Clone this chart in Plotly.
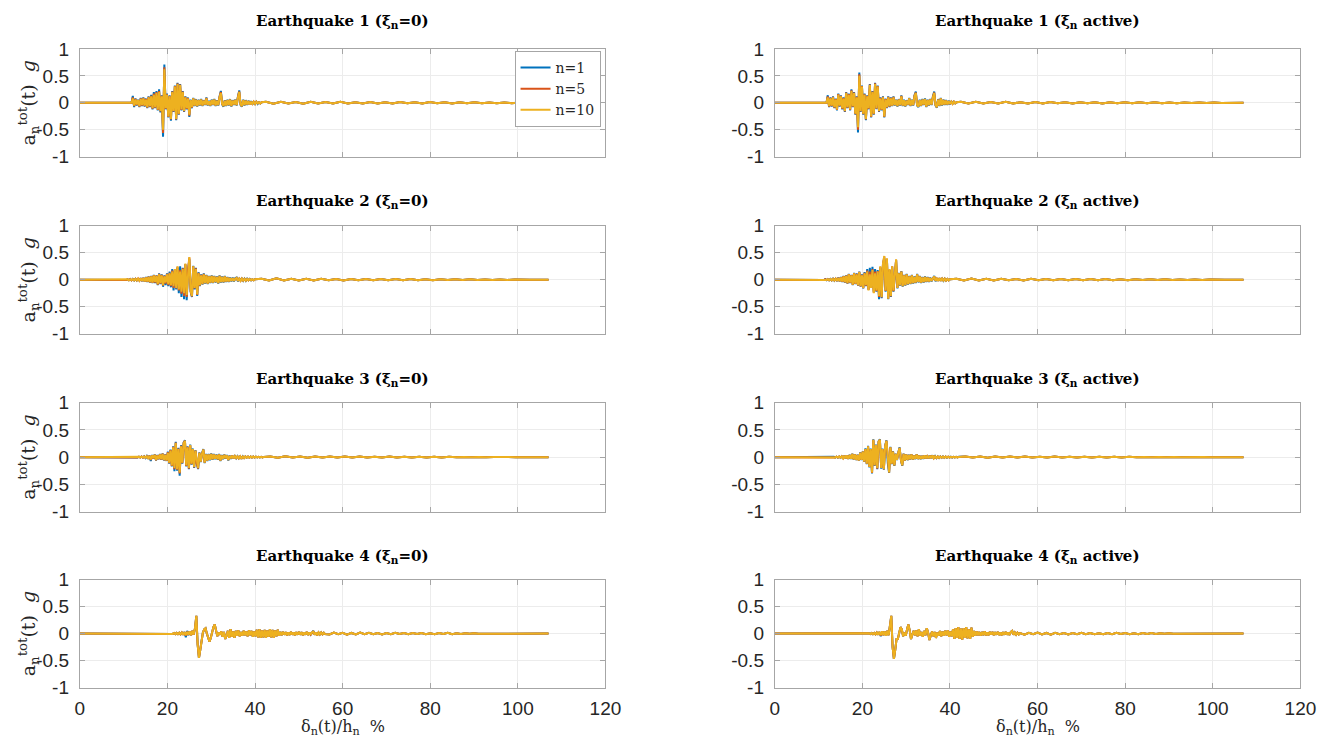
import plotly.graph_objects as go
from plotly.subplots import make_subplots

# ---------------- text ----------------
earthquakes = ["Earthquake 1", "Earthquake 2", "Earthquake 3", "Earthquake 4"]
cases = ["(ξ<sub>n</sub>=0)", "(ξ<sub>n</sub> active)"]
series_names = ["n=1", "n=5", "n=10"]
series_colors = ["#0072BD", "#D95319", "#EDB120"]
x_ticks = [0, 20, 40, 60, 80, 100, 120]
y_ticks = [-1, -0.5, 0, 0.5, 1]
y_ticktext = ["-1", "-0.5", "0", "0.5", "1"]
x_end = 107  # last drift value of every record

# sampling of the strong-motion window and of the tail for each panel
# order: EQ1 free, EQ1 active, EQ2 free, EQ2 active, EQ3 free, EQ3 active, EQ4 free, EQ4 active
win_start = [11.5, 11.5, 10.0, 10.0, 12.0, 12.0, 20.0, 20.0]
win_step = [0.3, 0.3, 0.3, 0.3, 0.3, 0.3, 0.3, 0.3]
tail_start = [42.5, 42.5, 41.5, 41.5, 43.5, 43.5, 57.0, 57.0]
tail_step = [1.7, 1.7, 1.7, 1.7, 1.7, 1.7, 1.0, 1.0]

# ---------------- Earthquake 1, xi = 0 ----------------
eq1_free_n1 = [0, 0, 0.13, -0.08, 0.08, -0.05, 0.06, -0.08, 0.09, -0.06,
               0.1, -0.07, 0.08, -0.1, 0.12, -0.08, 0.15, -0.12, 0.2, -0.1,
               0.22, -0.14, 0.25, -0.18, 0.14, -0.63, 0.71, -0.12, 0.17, -0.27,
               0.14, -0.33, 0.22, -0.17, 0.32, -0.32, 0.37, -0.22, 0.35, -0.14,
               0.22, -0.17, 0.12, -0.12, 0.1, -0.26, 0.06, -0.1, 0.09, -0.06,
               0.07, -0.07, 0.06, -0.05, 0.07, -0.06, 0.05, -0.04, 0.1, -0.05,
               0.04, -0.06, 0.06, -0.04, 0.07, -0.06, 0.05, -0.05, 0.12, 0.22,
               -0.03, -0.07, 0.05, -0.06, 0.06, -0.05, 0.07, -0.07, 0.05, -0.04,
               0.06, -0.05, 0.12, 0.23, -0.04, -0.07, 0.06, -0.05, 0.05, -0.04,
               0.04, -0.03, 0.03, -0.03, 0.02, -0.02, 0.02, -0.02, 0.01, -0.01, 0.01]
eq1_free_n5 = [0, 0, 0.1, -0.06, 0.07, -0.04, 0.05, -0.07, 0.08, -0.05,
               0.09, -0.06, 0.07, -0.09, 0.11, -0.07, 0.13, -0.11, 0.17, -0.09,
               0.2, -0.13, 0.22, -0.16, 0.13, -0.56, 0.66, -0.11, 0.16, -0.26,
               0.13, -0.31, 0.21, -0.16, 0.31, -0.31, 0.36, -0.21, 0.34, -0.13,
               0.21, -0.16, 0.11, -0.11, 0.09, -0.24, 0.05, -0.09, 0.08, -0.05,
               0.06, -0.06, 0.05, -0.04, 0.06, -0.05, 0.04, -0.03, 0.09, -0.04,
               0.03, -0.05, 0.05, -0.03, 0.06, -0.05, 0.04, -0.04, 0.11, 0.2,
               -0.02, -0.06, 0.04, -0.05, 0.05, -0.04, 0.06, -0.06, 0.04, -0.03,
               0.05, -0.04, 0.11, 0.21, -0.03, -0.06, 0.05, -0.04, 0.04, -0.03,
               0.03, -0.03, 0.02, -0.02, 0.02, -0.02, 0.02, -0.01, 0.01, -0.01, 0.01]
eq1_free_n10 = [0, 0, 0.08, -0.05, 0.06, -0.03, 0.05, -0.06, 0.07, -0.04,
                0.08, -0.05, 0.06, -0.08, 0.1, -0.06, 0.12, -0.1, 0.15, -0.08,
                0.18, -0.12, 0.2, -0.15, 0.12, -0.5, 0.62, -0.1, 0.15, -0.25,
                0.12, -0.3, 0.2, -0.15, 0.3, -0.3, 0.35, -0.2, 0.33, -0.12,
                0.2, -0.15, 0.1, -0.1, 0.08, -0.22, 0.05, -0.08, 0.08, -0.05,
                0.06, -0.06, 0.05, -0.04, 0.06, -0.05, 0.04, -0.03, 0.08, -0.04,
                0.03, -0.05, 0.05, -0.03, 0.06, -0.05, 0.04, -0.04, 0.1, 0.18,
                -0.02, -0.06, 0.04, -0.05, 0.05, -0.04, 0.06, -0.06, 0.04, -0.03,
                0.05, -0.04, 0.1, 0.2, -0.03, -0.06, 0.05, -0.04, 0.04, -0.03,
                0.03, -0.03, 0.02, -0.02, 0.02, -0.02, 0.02, -0.01, 0.01, -0.01, 0.01]
eq1_free_tail = [0.02, -0.015, 0.02, -0.01, 0.015, -0.015, 0.02, -0.01, 0.015, -0.012,
                 0.018, -0.01, 0.012, -0.012, 0.015, -0.01, 0.012, -0.01, 0.015, -0.008,
                 0.012, -0.01, 0.015, -0.008, 0.01, -0.01, 0.012, -0.008, 0.01, -0.008,
                 0.008, -0.006, 0.008, -0.006, 0.005, -0.004, 0.003]

# ---------------- Earthquake 1, xi active ----------------
eq1_act_n1 = [0, 0, 0.14, -0.08, 0.1, -0.07, 0.12, -0.1, 0.08, -0.14,
              0.17, -0.07, 0.14, -0.12, 0.1, -0.17, 0.2, -0.1, 0.17, -0.14,
              0.25, -0.08, 0.2, -0.22, 0.12, -0.55, 0.56, -0.17, 0.32, -0.22,
              0.17, -0.32, 0.14, -0.12, 0.35, -0.27, 0.22, -0.22, 0.37, -0.12,
              0.32, -0.17, 0.1, -0.14, 0.12, -0.27, 0.08, -0.1, 0.12, -0.08,
              0.1, -0.06, 0.12, -0.05, 0.06, -0.07, 0.07, -0.05, 0.14, -0.06,
              0.06, -0.07, 0.05, -0.04, 0.09, -0.06, 0.06, -0.05, 0.14, 0.21,
              -0.05, -0.08, 0.06, -0.06, 0.07, -0.04, 0.08, -0.08, 0.06, -0.05,
              0.07, -0.04, 0.12, 0.21, -0.05, -0.09, 0.07, -0.06, 0.09, -0.05,
              0.06, -0.04, 0.05, -0.04, 0.04, -0.03, 0.03, -0.02, 0.02, -0.01, 0.01]
eq1_act_n5 = [0, 0, 0.12, -0.07, 0.09, -0.06, 0.11, -0.09, 0.07, -0.13,
              0.16, -0.06, 0.13, -0.11, 0.09, -0.16, 0.19, -0.09, 0.16, -0.13,
              0.23, -0.07, 0.19, -0.21, 0.11, -0.5, 0.53, -0.16, 0.31, -0.21,
              0.16, -0.31, 0.13, -0.11, 0.34, -0.26, 0.21, -0.21, 0.36, -0.11,
              0.31, -0.16, 0.09, -0.13, 0.11, -0.26, 0.07, -0.09, 0.11, -0.07,
              0.09, -0.05, 0.11, -0.04, 0.05, -0.06, 0.06, -0.04, 0.13, -0.05,
              0.05, -0.06, 0.04, -0.03, 0.08, -0.05, 0.05, -0.04, 0.13, 0.19,
              -0.04, -0.07, 0.05, -0.05, 0.06, -0.03, 0.07, -0.07, 0.05, -0.04,
              0.06, -0.03, 0.11, 0.19, -0.04, -0.08, 0.06, -0.05, 0.08, -0.04,
              0.05, -0.03, 0.04, -0.03, 0.03, -0.02, 0.02, -0.02, 0.02, -0.01, 0.01]
eq1_act_n10 = [0, 0, 0.1, -0.06, 0.08, -0.05, 0.1, -0.08, 0.06, -0.12,
               0.15, -0.05, 0.12, -0.1, 0.08, -0.15, 0.18, -0.08, 0.15, -0.12,
               0.22, -0.06, 0.18, -0.2, 0.1, -0.45, 0.5, -0.15, 0.3, -0.2,
               0.15, -0.3, 0.12, -0.1, 0.33, -0.25, 0.2, -0.2, 0.35, -0.1,
               0.3, -0.15, 0.08, -0.12, 0.1, -0.25, 0.06, -0.08, 0.1, -0.06,
               0.08, -0.05, 0.1, -0.04, 0.05, -0.06, 0.06, -0.04, 0.12, -0.05,
               0.05, -0.06, 0.04, -0.03, 0.08, -0.05, 0.05, -0.04, 0.12, 0.18,
               -0.04, -0.07, 0.05, -0.05, 0.06, -0.03, 0.07, -0.07, 0.05, -0.04,
               0.06, -0.03, 0.1, 0.18, -0.04, -0.08, 0.06, -0.05, 0.08, -0.04,
               0.05, -0.03, 0.04, -0.03, 0.03, -0.02, 0.02, -0.02, 0.02, -0.01, 0.01]
eq1_act_tail = [0.02, -0.012, 0.018, -0.012, 0.015, -0.01, 0.02, -0.012, 0.012, -0.01,
                0.015, -0.01, 0.015, -0.008, 0.012, -0.01, 0.012, -0.008, 0.012, -0.01,
                0.01, -0.008, 0.012, -0.008, 0.01, -0.006, 0.01, -0.008, 0.008, -0.006,
                0.008, -0.005, 0.006, -0.005, 0.004, -0.003, 0.002]

# ---------------- Earthquake 2, xi = 0 ----------------
eq2_free_n1 = [0, 0.006, -0.006, 0.01, -0.01, 0.012, -0.012, 0.015, -0.012, 0.018,
               -0.015, 0.025, -0.02, 0.03, -0.025, 0.035, -0.035, 0.05, -0.04, 0.06,
               -0.05, 0.07, -0.06, 0.09, -0.06, 0.08, -0.1, 0.12, -0.08, 0.1,
               -0.13, 0.08, -0.1, 0.12, -0.12, 0.15, -0.14, 0.2, -0.2, 0.18,
               -0.18, 0.22, -0.25, 0.25, -0.32, 0.22, -0.36, 0.28, -0.38, 0.15,
               0.38, -0.22, -0.32, 0.26, -0.18, 0.22, -0.3, 0.14, -0.12, 0.1,
               -0.09, 0.12, -0.07, 0.09, -0.08, 0.07, -0.06, 0.08, -0.06, 0.07,
               -0.05, 0.06, -0.07, 0.08, -0.05, 0.06, -0.05, 0.07, -0.04, 0.05,
               -0.04, 0.04, -0.03, 0.04, -0.03, 0.03, 0.04, -0.03, 0.03, -0.02,
               0.02, -0.02, 0.02, -0.02, 0.02, -0.01, 0.015, -0.01, 0.01, -0.01, 0.01]
eq2_free_n5 = [0, 0.005, -0.005, 0.009, -0.009, 0.011, -0.011, 0.013, -0.011, 0.016,
               -0.013, 0.022, -0.017, 0.027, -0.022, 0.032, -0.032, 0.045, -0.035, 0.055,
               -0.045, 0.065, -0.055, 0.085, -0.05, 0.075, -0.09, 0.11, -0.07, 0.09,
               -0.11, 0.07, -0.07, 0.11, -0.1, 0.13, -0.12, 0.17, -0.15, 0.19,
               -0.16, 0.24, -0.2, 0.18, -0.26, 0.21, -0.3, 0.29, -0.32, 0.18,
               0.41, -0.21, -0.31, 0.25, -0.16, 0.21, -0.28, 0.13, -0.11, 0.09,
               -0.08, 0.11, -0.06, 0.08, -0.07, 0.06, -0.05, 0.07, -0.05, 0.06,
               -0.04, 0.05, -0.06, 0.07, -0.04, 0.05, -0.04, 0.06, -0.03, 0.04,
               -0.03, 0.03, -0.02, 0.03, -0.02, 0.02, 0.035, -0.02, 0.02, -0.02,
               0.02, -0.015, 0.015, -0.015, 0.015, -0.01, 0.012, -0.01, 0.01, -0.01, 0.01]
eq2_free_n10 = [0, 0.005, -0.005, 0.008, -0.008, 0.01, -0.01, 0.012, -0.01, 0.015,
                -0.012, 0.02, -0.015, 0.025, -0.02, 0.03, -0.03, 0.04, -0.03, 0.05,
                -0.04, 0.06, -0.05, 0.08, -0.04, 0.07, -0.08, 0.1, -0.06, 0.08,
                -0.1, 0.06, -0.05, 0.1, -0.08, 0.12, -0.1, 0.15, -0.12, 0.2,
                -0.15, 0.25, -0.18, 0.15, -0.22, 0.2, -0.25, 0.3, -0.28, 0.2,
                0.42, -0.2, -0.3, 0.25, -0.15, 0.2, -0.27, 0.12, -0.1, 0.08,
                -0.08, 0.1, -0.06, 0.08, -0.07, 0.06, -0.05, 0.07, -0.05, 0.06,
                -0.04, 0.05, -0.06, 0.07, -0.04, 0.05, -0.04, 0.06, -0.03, 0.04,
                -0.03, 0.03, -0.02, 0.03, -0.02, 0.02, 0.035, -0.02, 0.02, -0.02,
                0.02, -0.015, 0.015, -0.015, 0.015, -0.01, 0.012, -0.01, 0.01, -0.01, 0.01]
eq2_free_tail = [0.02, -0.015, 0.025, -0.012, 0.02, -0.015, 0.018, -0.012, 0.02, -0.01,
                 0.015, -0.012, 0.015, -0.01, 0.012, -0.01, 0.015, -0.008, 0.012, -0.01,
                 0.012, -0.008, 0.01, -0.008, 0.01, -0.006, 0.008, -0.006, 0.008, -0.005,
                 0.006, -0.005, 0.005, -0.004, 0.004, -0.003, 0.002]

# ---------------- Earthquake 2, xi active ----------------
eq2_act_n1 = [0, 0.004, -0.004, 0.006, -0.006, 0.01, -0.008, 0.012, -0.01, 0.015,
              -0.012, 0.02, -0.015, 0.025, -0.025, 0.04, -0.03, 0.05, -0.04, 0.07,
              -0.05, 0.08, -0.07, 0.11, -0.06, 0.09, -0.1, 0.13, -0.08, 0.12,
              -0.11, 0.15, -0.13, 0.1, -0.16, 0.14, -0.12, 0.2, -0.18, 0.22,
              -0.12, 0.24, -0.22, 0.2, -0.22, 0.18, -0.36, 0.22, -0.34, 0.28,
              0.4, -0.22, 0.38, -0.36, 0.18, -0.32, 0.24, -0.22, 0.14, 0.36,
              -0.16, 0.13, -0.11, 0.16, -0.13, 0.09, -0.11, 0.11, -0.09, 0.07,
              -0.08, 0.09, -0.07, 0.06, -0.06, 0.11, -0.05, 0.07, -0.06, 0.05,
              -0.05, 0.06, -0.04, 0.05, -0.04, 0.04, -0.03, 0.04, 0.07, -0.03,
              0.03, -0.02, 0.03, -0.02, 0.02, -0.02, 0.02, -0.015, 0.015, -0.01, 0.01]
eq2_act_n5 = [0, 0.003, -0.003, 0.005, -0.005, 0.009, -0.007, 0.011, -0.009, 0.013,
              -0.011, 0.017, -0.013, 0.022, -0.022, 0.035, -0.027, 0.045, -0.035, 0.065,
              -0.045, 0.075, -0.065, 0.105, -0.055, 0.085, -0.095, 0.125, -0.075, 0.11,
              -0.105, 0.145, -0.125, 0.09, -0.155, 0.13, -0.11, 0.17, -0.19, 0.15,
              -0.14, 0.2, -0.24, 0.15, -0.21, 0.16, -0.32, 0.24, -0.33, 0.29,
              0.43, -0.21, 0.39, -0.35, 0.19, -0.31, 0.25, -0.21, 0.15, 0.37,
              -0.15, 0.12, -0.1, 0.15, -0.12, 0.08, -0.1, 0.1, -0.08, 0.06,
              -0.07, 0.08, -0.06, 0.05, -0.05, 0.1, -0.04, 0.06, -0.05, 0.04,
              -0.04, 0.05, -0.03, 0.04, -0.03, 0.03, -0.02, 0.03, 0.06, -0.02,
              0.02, -0.02, 0.03, -0.02, 0.02, -0.015, 0.02, -0.015, 0.015, -0.01, 0.01]
eq2_act_n10 = [0, 0.003, -0.003, 0.005, -0.005, 0.008, -0.006, 0.01, -0.008, 0.012,
               -0.01, 0.015, -0.012, 0.02, -0.02, 0.03, -0.025, 0.04, -0.03, 0.06,
               -0.04, 0.07, -0.06, 0.1, -0.05, 0.08, -0.09, 0.12, -0.07, 0.1,
               -0.1, 0.14, -0.12, 0.08, -0.15, 0.12, -0.1, 0.15, -0.2, 0.1,
               -0.15, 0.18, -0.25, 0.12, -0.2, 0.15, -0.3, 0.25, -0.32, 0.3,
               0.44, -0.2, 0.4, -0.35, 0.2, -0.3, 0.25, -0.2, 0.15, 0.38,
               -0.15, 0.12, -0.1, 0.15, -0.12, 0.08, -0.1, 0.1, -0.08, 0.06,
               -0.07, 0.08, -0.06, 0.05, -0.05, 0.1, -0.04, 0.06, -0.05, 0.04,
               -0.04, 0.05, -0.03, 0.04, -0.03, 0.03, -0.02, 0.03, 0.06, -0.02,
               0.02, -0.02, 0.03, -0.02, 0.02, -0.015, 0.02, -0.015, 0.015, -0.01, 0.01]
eq2_act_tail = [0.02, -0.012, 0.022, -0.015, 0.018, -0.012, 0.02, -0.01, 0.015, -0.012,
                0.018, -0.01, 0.015, -0.01, 0.012, -0.01, 0.015, -0.008, 0.012, -0.008,
                0.012, -0.008, 0.01, -0.008, 0.01, -0.006, 0.01, -0.006, 0.008, -0.005,
                0.006, -0.005, 0.005, -0.004, 0.004, -0.003, 0.002]

# ---------------- Earthquake 3, xi = 0 ----------------
eq3_free_n1 = [0, 0.004, -0.004, 0.006, -0.006, 0.01, -0.008, 0.012, -0.01, 0.015,
               -0.015, 0.02, -0.03, 0.03, -0.07, 0.04, -0.03, 0.05, -0.06, 0.04,
               -0.04, 0.06, -0.05, 0.07, -0.06, 0.05, -0.07, 0.1, -0.12, 0.14,
               -0.17, 0.2, -0.26, 0.28, -0.25, 0.17, -0.34, 0.22, -0.12, 0.27,
               0.31, -0.17, 0.2, -0.22, 0.23, -0.14, 0.16, -0.2, 0.13, -0.12,
               -0.22, 0.09, -0.09, 0.07, 0.15, -0.11, 0.06, -0.07, 0.06, -0.06,
               0.07, -0.05, 0.06, -0.04, 0.05, -0.05, 0.06, -0.07, 0.04, -0.04,
               0.05, -0.03, 0.04, -0.06, 0.03, -0.03, 0.03, -0.02, 0.02, -0.02,
               0.02, -0.02, 0.02, -0.03, 0.015, -0.015, 0.012, -0.01, 0.012, -0.01,
               0.01, -0.008, 0.01, -0.008, 0.008, -0.006, 0.006, -0.006, 0.005, -0.005, 0.005]
eq3_free_n5 = [0, 0.003, -0.003, 0.005, -0.005, 0.009, -0.007, 0.011, -0.009, 0.013,
               -0.012, 0.017, -0.025, 0.025, -0.05, 0.035, -0.025, 0.045, -0.055, 0.035,
               -0.035, 0.055, -0.045, 0.065, -0.055, 0.045, -0.065, 0.09, -0.11, 0.13,
               -0.16, 0.19, -0.22, 0.27, -0.23, 0.16, -0.3, 0.21, -0.11, 0.26,
               0.3, -0.16, 0.19, -0.21, 0.22, -0.13, 0.15, -0.19, 0.12, -0.11,
               -0.21, 0.08, -0.08, 0.06, 0.14, -0.1, 0.05, -0.06, 0.05, -0.05,
               0.06, -0.04, 0.05, -0.03, 0.04, -0.04, 0.05, -0.06, 0.03, -0.03,
               0.04, -0.02, 0.03, -0.05, 0.02, -0.02, 0.025, -0.02, 0.02, -0.015,
               0.015, -0.02, 0.015, -0.03, 0.01, -0.015, 0.012, -0.01, 0.012, -0.01,
               0.01, -0.008, 0.01, -0.008, 0.008, -0.006, 0.006, -0.006, 0.005, -0.005, 0.005]
eq3_free_n10 = [0, 0.003, -0.003, 0.005, -0.005, 0.008, -0.006, 0.01, -0.008, 0.012,
                -0.01, 0.015, -0.02, 0.02, -0.04, 0.03, -0.02, 0.04, -0.05, 0.03,
                -0.03, 0.05, -0.04, 0.06, -0.05, 0.04, -0.06, 0.08, -0.1, 0.12,
                -0.15, 0.18, -0.2, 0.26, -0.22, 0.15, -0.28, 0.2, -0.1, 0.25,
                0.3, -0.15, 0.18, -0.2, 0.22, -0.12, 0.15, -0.18, 0.12, -0.1,
                -0.2, 0.08, -0.08, 0.06, 0.14, -0.1, 0.05, -0.06, 0.05, -0.05,
                0.06, -0.04, 0.05, -0.03, 0.04, -0.04, 0.05, -0.06, 0.03, -0.03,
                0.04, -0.02, 0.03, -0.05, 0.02, -0.02, 0.025, -0.02, 0.02, -0.015,
                0.015, -0.02, 0.015, -0.03, 0.01, -0.015, 0.012, -0.01, 0.012, -0.01,
                0.01, -0.008, 0.01, -0.008, 0.008, -0.006, 0.006, -0.006, 0.005, -0.005, 0.005]
eq3_free_tail = [0.012, -0.01, 0.015, -0.008, 0.012, -0.01, 0.01, -0.008, 0.012, -0.008,
                 0.01, -0.006, 0.01, -0.008, 0.008, -0.006, 0.01, -0.006, 0.008, -0.005,
                 0.008, -0.006, 0.006, -0.005, 0.006, -0.004, 0.005, -0.004, 0.004, -0.003,
                 0.004, -0.003, 0.003, -0.002, 0.002, -0.001]

# ---------------- Earthquake 3, xi active ----------------
eq3_act_n1 = [0, 0.003, -0.003, 0.005, -0.005, 0.007, -0.007, 0.009, -0.009, 0.011,
              -0.011, 0.016, -0.022, 0.027, -0.022, 0.032, -0.032, 0.043, -0.032, 0.063,
              -0.043, 0.053, -0.053, 0.043, -0.063, 0.085, -0.053, 0.105, -0.085, 0.16,
              -0.13, 0.21, -0.19, 0.16, -0.3, 0.33, -0.16, 0.23, -0.22, 0.29,
              0.33, -0.21, 0.16, -0.23, 0.21, 0.31, -0.11, -0.29, 0.19, -0.13,
              0.11, -0.16, 0.065, -0.055, 0.085, 0.18, -0.055, -0.16, 0.065, -0.065,
              0.055, -0.055, 0.045, -0.045, 0.055, -0.045, 0.035, -0.035, 0.055, -0.035,
              0.035, -0.035, 0.025, -0.03, 0.035, -0.025, 0.025, -0.025, 0.03, -0.018,
              0.035, -0.025, 0.018, -0.018, 0.014, -0.014, 0.012, -0.012, 0.014, -0.012,
              0.012, -0.009, 0.009, -0.009, 0.007, -0.007, 0.007, -0.006, 0.006, -0.006, 0.006]
eq3_act_n5 = [0, 0.003, -0.003, 0.005, -0.005, 0.006, -0.006, 0.008, -0.008, 0.01,
              -0.01, 0.015, -0.02, 0.025, -0.02, 0.03, -0.03, 0.04, -0.03, 0.06,
              -0.04, 0.05, -0.05, 0.04, -0.06, 0.08, -0.05, 0.1, -0.08, 0.15,
              -0.12, 0.2, -0.18, 0.15, -0.29, 0.32, -0.15, 0.22, -0.21, 0.28,
              0.32, -0.2, 0.15, -0.22, 0.2, 0.3, -0.1, -0.28, 0.18, -0.12,
              0.1, -0.15, 0.06, -0.05, 0.08, 0.17, -0.05, -0.15, 0.06, -0.06,
              0.05, -0.05, 0.04, -0.04, 0.05, -0.04, 0.03, -0.03, 0.05, -0.03,
              0.03, -0.03, 0.02, -0.025, 0.03, -0.02, 0.02, -0.02, 0.025, -0.015,
              0.03, -0.02, 0.015, -0.015, 0.012, -0.012, 0.01, -0.01, 0.012, -0.01,
              0.01, -0.008, 0.008, -0.008, 0.006, -0.006, 0.006, -0.005, 0.005, -0.005, 0.005]
eq3_act_n10 = [0, 0.003, -0.003, 0.005, -0.005, 0.006, -0.006, 0.008, -0.008, 0.01,
               -0.01, 0.015, -0.02, 0.025, -0.02, 0.03, -0.03, 0.04, -0.03, 0.06,
               -0.04, 0.05, -0.05, 0.04, -0.06, 0.08, -0.05, 0.1, -0.08, 0.15,
               -0.12, 0.2, -0.18, 0.15, -0.28, 0.32, -0.15, 0.22, -0.2, 0.28,
               0.32, -0.2, 0.15, -0.22, 0.2, 0.3, -0.1, -0.28, 0.18, -0.12,
               0.1, -0.15, 0.06, -0.05, 0.08, 0.17, -0.05, -0.15, 0.06, -0.06,
               0.05, -0.05, 0.04, -0.04, 0.05, -0.04, 0.03, -0.03, 0.05, -0.03,
               0.03, -0.03, 0.02, -0.025, 0.03, -0.02, 0.02, -0.02, 0.025, -0.015,
               0.03, -0.02, 0.015, -0.015, 0.012, -0.012, 0.01, -0.01, 0.012, -0.01,
               0.01, -0.008, 0.008, -0.008, 0.006, -0.006, 0.006, -0.005, 0.005, -0.005, 0.005]
eq3_act_tail = [0.012, -0.008, 0.012, -0.01, 0.01, -0.008, 0.012, -0.006, 0.01, -0.008,
                0.008, -0.006, 0.01, -0.006, 0.008, -0.006, 0.008, -0.005, 0.008, -0.005,
                0.006, -0.005, 0.006, -0.004, 0.005, -0.004, 0.005, -0.003, 0.004, -0.003,
                0.003, -0.003, 0.002, -0.002, 0.002, -0.001]

# ---------------- Earthquake 4, xi = 0 ----------------
eq4_free_n1 = [0, 0.005, -0.005, 0.008, -0.006, 0.01, -0.01, 0.012, -0.01, 0.015,
               -0.015, 0.02, -0.02, 0.03, -0.07, 0.05, -0.03, 0.04, -0.03, 0.05,
               -0.02, 0.1, 0.33, -0.2, -0.45, -0.3, -0.1, 0.02, 0.08, 0.1,
               0.0, -0.1, -0.15, -0.08, 0.05, 0.12, 0.17, 0.05, -0.05, 0.02,
               -0.02, 0.04, -0.06, 0.03, -0.1, -0.04, 0.05, -0.08, 0.08, -0.06,
               0.04, -0.08, 0.05, -0.04, 0.06, -0.05, 0.03, -0.04, 0.05, -0.03,
               0.04, -0.05, 0.06, -0.03, 0.05, -0.06, 0.04, -0.05, 0.07, -0.07,
               0.08, -0.08, 0.06, -0.07, 0.07, -0.08, 0.06, -0.06, 0.08, -0.07,
               0.07, -0.08, 0.06, -0.05, 0.07, -0.04, 0.03, -0.03, 0.03, -0.02,
               0.025, -0.03, 0.02, -0.025, 0.03, -0.02, 0.02, -0.03, 0.025, -0.02,
               0.03, -0.02, 0.025, -0.03, 0.02, -0.02, 0.03, -0.025, 0.02, -0.02,
               0.025, 0.05, -0.02, 0.02, -0.03, 0.02, -0.015, 0.02, -0.015, 0.015, -0.01]
eq4_free_n5 = [0, 0.005, -0.005, 0.008, -0.006, 0.01, -0.01, 0.012, -0.01, 0.015,
               -0.015, 0.02, -0.02, 0.026, -0.04, 0.035, -0.025, 0.04, -0.03, 0.05,
               -0.02, 0.1, 0.33, -0.2, -0.45, -0.3, -0.1, 0.02, 0.08, 0.1,
               0.0, -0.1, -0.15, -0.08, 0.05, 0.12, 0.17, 0.05, -0.05, 0.02,
               -0.02, 0.04, -0.06, 0.03, -0.1, -0.04, 0.05, -0.08, 0.08, -0.06,
               0.04, -0.08, 0.05, -0.04, 0.06, -0.05, 0.03, -0.04, 0.05, -0.03,
               0.04, -0.05, 0.06, -0.03, 0.05, -0.06, 0.04, -0.05, 0.07, -0.07,
               0.08, -0.08, 0.06, -0.07, 0.07, -0.08, 0.06, -0.06, 0.08, -0.07,
               0.07, -0.08, 0.06, -0.05, 0.07, -0.04, 0.03, -0.03, 0.03, -0.02,
               0.025, -0.03, 0.02, -0.025, 0.03, -0.02, 0.02, -0.03, 0.025, -0.02,
               0.03, -0.02, 0.025, -0.03, 0.02, -0.02, 0.03, -0.025, 0.02, -0.02,
               0.025, 0.045, -0.02, 0.02, -0.03, 0.02, -0.015, 0.02, -0.015, 0.015, -0.01]
eq4_free_n10 = [0, 0.005, -0.005, 0.008, -0.006, 0.01, -0.01, 0.012, -0.01, 0.015,
                -0.015, 0.02, -0.02, 0.025, -0.03, 0.03, -0.02, 0.04, -0.03, 0.05,
                -0.02, 0.1, 0.33, -0.2, -0.45, -0.3, -0.1, 0.02, 0.08, 0.1,
                0.0, -0.1, -0.15, -0.08, 0.05, 0.12, 0.17, 0.05, -0.05, 0.02,
                -0.02, 0.04, -0.06, 0.03, -0.1, -0.04, 0.05, -0.08, 0.08, -0.06,
                0.04, -0.08, 0.05, -0.04, 0.06, -0.05, 0.03, -0.04, 0.05, -0.03,
                0.04, -0.05, 0.06, -0.03, 0.05, -0.06, 0.04, -0.05, 0.07, -0.07,
                0.08, -0.08, 0.06, -0.07, 0.07, -0.08, 0.06, -0.06, 0.08, -0.07,
                0.07, -0.08, 0.06, -0.05, 0.07, -0.04, 0.03, -0.03, 0.03, -0.02,
                0.025, -0.03, 0.02, -0.025, 0.03, -0.02, 0.02, -0.03, 0.025, -0.02,
                0.03, -0.02, 0.025, -0.03, 0.02, -0.02, 0.03, -0.025, 0.02, -0.02,
                0.025, 0.035, -0.02, 0.02, -0.03, 0.02, -0.015, 0.02, -0.015, 0.015, -0.01]
eq4_free_tail = [-0.015, 0.02, -0.01, 0.015, -0.02, 0.012, -0.015, 0.02, -0.01, 0.015,
                 -0.012, 0.01, -0.015, 0.012, -0.01, 0.015, -0.008, 0.01, -0.012, 0.01,
                 -0.008, 0.012, -0.01, 0.008, -0.01, 0.012, -0.008, 0.015, -0.01, 0.008,
                 -0.006, 0.008, -0.005, 0.004, -0.002]

# ---------------- Earthquake 4, xi active ----------------
eq4_act_n1 = [0, 0.005, -0.005, 0.006, -0.006, 0.008, -0.008, 0.01, -0.01, 0.012,
              -0.015, 0.02, -0.02, 0.03, -0.05, 0.04, -0.03, 0.04, -0.04, 0.05,
              -0.03, 0.12, 0.33, -0.25, -0.47, -0.3, -0.1, -0.1, 0.02, 0.12,
              0.08, -0.05, 0.02, -0.04, 0.08, 0.17, 0.06, -0.1, -0.02, 0.05,
              -0.03, 0.06, -0.05, 0.08, -0.04, 0.03, -0.06, 0.05, -0.03, 0.1,
              0.02, -0.12, -0.04, 0.04, -0.05, 0.03, -0.08, 0.02, -0.04, 0.05,
              -0.05, 0.04, -0.04, 0.05, -0.03, 0.06, -0.06, 0.04, -0.05, 0.08,
              -0.1, 0.1, -0.08, 0.12, -0.1, 0.09, -0.11, 0.1, -0.08, 0.12,
              -0.09, 0.08, -0.1, 0.11, -0.06, 0.05, -0.04, 0.04, -0.03, 0.03,
              -0.04, 0.03, -0.03, 0.04, -0.03, 0.02, -0.03, 0.03, -0.02, 0.03,
              -0.03, 0.025, -0.02, 0.03, -0.025, 0.02, -0.03, 0.025, -0.02, 0.03,
              -0.02, 0.02, -0.025, 0.03, 0.05, -0.02, 0.02, -0.02, 0.015, -0.015, 0.01]
eq4_act_n5 = [0, 0.005, -0.005, 0.006, -0.006, 0.008, -0.008, 0.01, -0.01, 0.012,
              -0.015, 0.02, -0.02, 0.03, -0.04, 0.04, -0.03, 0.04, -0.04, 0.05,
              -0.03, 0.12, 0.33, -0.25, -0.47, -0.3, -0.1, -0.1, 0.02, 0.12,
              0.08, -0.05, 0.02, -0.04, 0.08, 0.17, 0.06, -0.1, -0.02, 0.05,
              -0.03, 0.06, -0.05, 0.08, -0.04, 0.03, -0.06, 0.05, -0.03, 0.1,
              0.02, -0.12, -0.04, 0.04, -0.05, 0.03, -0.08, 0.02, -0.04, 0.05,
              -0.05, 0.04, -0.04, 0.05, -0.03, 0.06, -0.06, 0.04, -0.05, 0.08,
              -0.1, 0.1, -0.08, 0.12, -0.1, 0.09, -0.11, 0.1, -0.08, 0.12,
              -0.09, 0.08, -0.1, 0.11, -0.06, 0.05, -0.04, 0.04, -0.03, 0.03,
              -0.04, 0.03, -0.03, 0.04, -0.03, 0.02, -0.03, 0.03, -0.02, 0.03,
              -0.03, 0.025, -0.02, 0.03, -0.025, 0.02, -0.03, 0.025, -0.02, 0.03,
              -0.02, 0.02, -0.025, 0.03, 0.05, -0.02, 0.02, -0.02, 0.015, -0.015, 0.01]
eq4_act_n10 = [0, 0.005, -0.005, 0.006, -0.006, 0.008, -0.008, 0.01, -0.01, 0.012,
               -0.015, 0.02, -0.02, 0.03, -0.03, 0.04, -0.03, 0.04, -0.04, 0.05,
               -0.03, 0.12, 0.33, -0.25, -0.47, -0.3, -0.1, -0.1, 0.02, 0.12,
               0.08, -0.05, 0.02, -0.04, 0.08, 0.17, 0.06, -0.1, -0.02, 0.05,
               -0.03, 0.06, -0.05, 0.08, -0.04, 0.03, -0.06, 0.05, -0.03, 0.1,
               0.02, -0.12, -0.04, 0.04, -0.05, 0.03, -0.08, 0.02, -0.04, 0.05,
               -0.05, 0.04, -0.04, 0.05, -0.03, 0.06, -0.06, 0.04, -0.05, 0.08,
               -0.1, 0.1, -0.08, 0.12, -0.1, 0.09, -0.11, 0.1, -0.08, 0.12,
               -0.09, 0.08, -0.1, 0.11, -0.06, 0.05, -0.04, 0.04, -0.03, 0.03,
               -0.04, 0.03, -0.03, 0.04, -0.03, 0.02, -0.03, 0.03, -0.02, 0.03,
               -0.03, 0.025, -0.02, 0.03, -0.025, 0.02, -0.03, 0.025, -0.02, 0.03,
               -0.02, 0.02, -0.025, 0.03, 0.05, -0.02, 0.02, -0.02, 0.015, -0.015, 0.01]
eq4_act_tail = [-0.02, 0.015, -0.012, 0.02, -0.015, 0.012, -0.02, 0.015, -0.01, 0.012,
                -0.015, 0.01, -0.012, 0.015, -0.01, 0.012, -0.01, 0.008, -0.012, 0.01,
                -0.01, 0.015, -0.008, 0.01, -0.012, 0.008, -0.01, 0.012, -0.008, 0.01,
                -0.006, 0.006, -0.005, 0.004, -0.002]

# table of panels built from the named lists (row-major: row r, col c)
panel_series = [
    [eq1_free_n1, eq1_free_n5, eq1_free_n10],
    [eq1_act_n1, eq1_act_n5, eq1_act_n10],
    [eq2_free_n1, eq2_free_n5, eq2_free_n10],
    [eq2_act_n1, eq2_act_n5, eq2_act_n10],
    [eq3_free_n1, eq3_free_n5, eq3_free_n10],
    [eq3_act_n1, eq3_act_n5, eq3_act_n10],
    [eq4_free_n1, eq4_free_n5, eq4_free_n10],
    [eq4_act_n1, eq4_act_n5, eq4_act_n10],
]
panel_tails = [eq1_free_tail, eq1_act_tail, eq2_free_tail, eq2_act_tail,
               eq3_free_tail, eq3_act_tail, eq4_free_tail, eq4_act_tail]


def build(k, vals):
    xs = [0.0] + [win_start[k] + win_step[k] * i for i in range(len(vals))]
    ys = [0.0] + list(vals)
    tail = panel_tails[k]
    xs += [tail_start[k] + tail_step[k] * i for i in range(len(tail))]
    ys += list(tail)
    xs.append(x_end)
    ys.append(0.0)
    return xs, ys


# ---------------- layout geometry (pixels of a 1343 x 752 canvas) ----------------
W, H = 1343, 752
col_px = [(76, 610), (782, 1316)]
row_px = [(40, 151), (222, 333), (404, 516), (586, 697)]
title_y_px = [12, 197, 380, 562]

fig = make_subplots(rows=4, cols=2)

TICK_FONT = dict(family="Liberation Sans, Arial, sans-serif", size=19, color="#262626")
SERIF = "DejaVu Serif, Liberation Serif, serif"

for r in range(4):
    for c in range(2):
        k = r * 2 + c
        for s in range(3):
            xs, ys = build(k, panel_series[k][s])
            fig.add_trace(
                go.Scatter(
                    x=xs, y=ys, mode="lines",
                    line=dict(color=series_colors[s], width=2),
                    name=series_names[s],
                    showlegend=(k == 0),
                    hoverinfo="skip",
                ),
                row=r + 1, col=c + 1,
            )
        idx = k + 1
        xd = [col_px[c][0] / W, col_px[c][1] / W]
        yd = [1 - row_px[r][1] / H, 1 - row_px[r][0] / H]
        xname = "xaxis" if idx == 1 else f"xaxis{idx}"
        yname = "yaxis" if idx == 1 else f"yaxis{idx}"
        fig.layout[xname].update(
            domain=xd, range=[0, 120], tickvals=x_ticks,
            showticklabels=(r == 3), tickfont=TICK_FONT, ticklabelstandoff=4,
            showgrid=True, gridcolor="#ececec", gridwidth=1,
            zeroline=False, showline=True, linecolor="#a6a6a6", linewidth=1,
            mirror="allticks", ticks="inside", ticklen=5, tickcolor="#a6a6a6",
        )
        fig.layout[yname].update(
            domain=yd, range=[-1, 1], tickvals=y_ticks, ticktext=y_ticktext,
            tickfont=TICK_FONT, ticklabelstandoff=6,
            showgrid=True, gridcolor="#ececec", gridwidth=1,
            zeroline=False, showline=True, linecolor="#a6a6a6", linewidth=1,
            mirror="allticks", ticks="inside", ticklen=5, tickcolor="#a6a6a6",
        )
        # panel title
        fig.add_annotation(
            text=f"<b>{earthquakes[r]} {cases[c]}</b>",
            x=(col_px[c][0] + col_px[c][1]) / 2 / W, y=1 - title_y_px[r] / H,
            xref="paper", yref="paper", xanchor="center", yanchor="middle",
            showarrow=False, font=dict(family=SERIF, size=15, color="#000000"),
        )
        # y-label on the left column
        if c == 0:
            fig.add_annotation(
                text="a<sub>n</sub><sup>tot</sup>(t)  <i>g</i>",
                x=24 / W, y=1 - (row_px[r][0] + row_px[r][1]) / 2 / H,
                xref="paper", yref="paper", xanchor="center", yanchor="middle",
                textangle=-90, showarrow=False,
                font=dict(family=SERIF, size=19, color="#262626"),
            )
        # x-label under the bottom row
        if r == 3:
            fig.add_annotation(
                text="δ<sub>n</sub>(t)/h<sub>n</sub>  %",
                x=(col_px[c][0] + col_px[c][1]) / 2 / W, y=1 - 751 / H,
                xref="paper", yref="paper", xanchor="center", yanchor="bottom",
                showarrow=False, font=dict(family=SERIF, size=16, color="#262626"),
            )

fig.update_layout(
    width=W, height=H,
    margin=dict(l=0, r=0, t=0, b=0),
    paper_bgcolor="white", plot_bgcolor="white",
    legend=dict(
        x=605 / W, xanchor="right", y=1 - 42 / H, yanchor="top",
        bgcolor="white", bordercolor="#a6a6a6", borderwidth=1,
        font=dict(family=SERIF, size=14, color="#262626"),
        itemwidth=30, tracegroupgap=0,
    ),
)

fig.write_html("out.html")
